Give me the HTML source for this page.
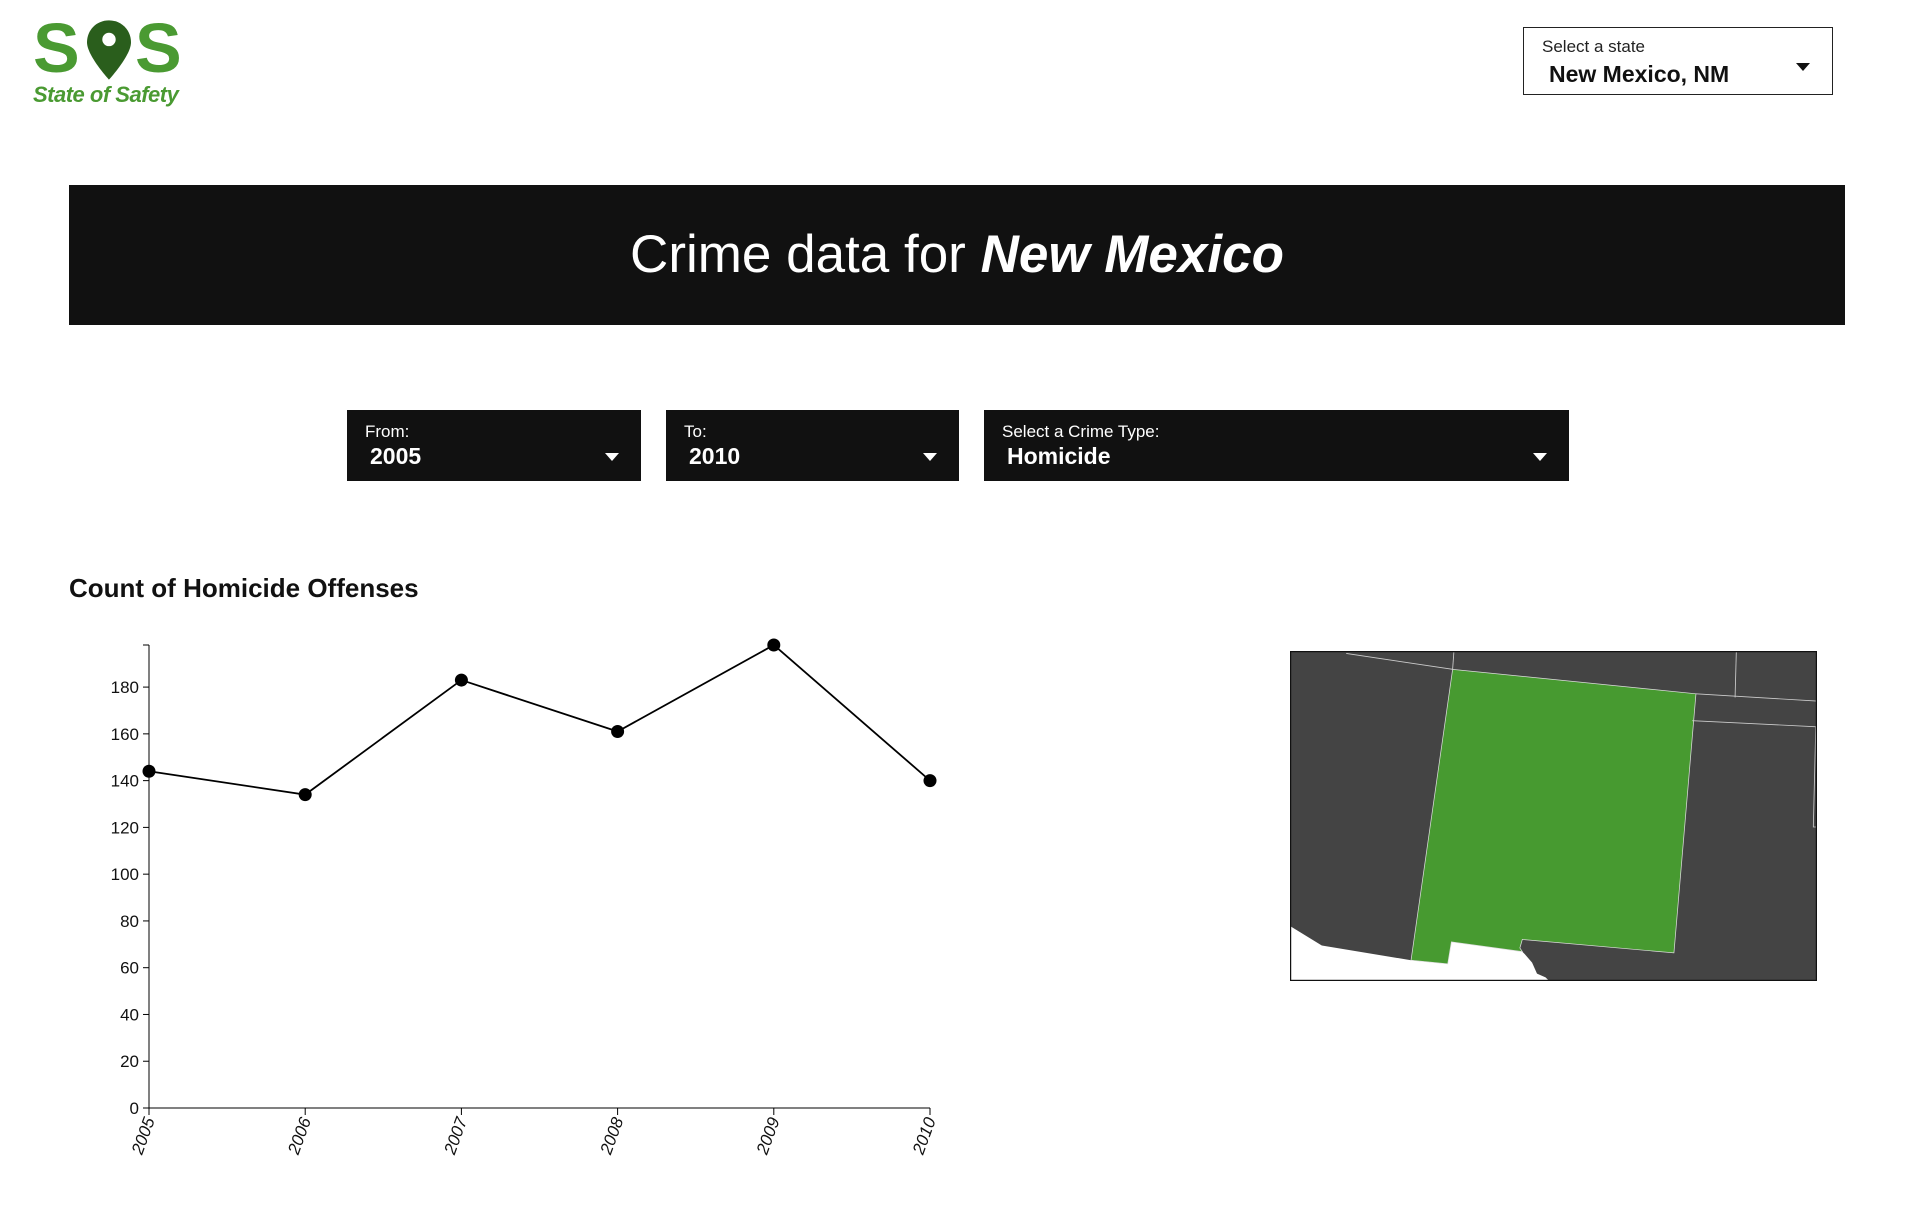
<!DOCTYPE html>
<html><head><meta charset="utf-8">
<style>
*{margin:0;padding:0;box-sizing:border-box}
body{width:1918px;height:1214px;background:#fff;font-family:"Liberation Sans",sans-serif;position:relative;overflow:hidden}
.abs{position:absolute}
.dd{position:absolute;background:#111;color:#fff;top:410px;height:71px}
.dd .l{position:absolute;left:18px;top:12px;font-size:17px}
.dd .v{position:absolute;left:23px;top:33px;font-size:23px;font-weight:bold}
.dd .a{position:absolute;right:22px;top:43px;width:0;height:0;border-left:7px solid transparent;border-right:7px solid transparent;border-top:8px solid #fff}
</style></head><body>
<div class="abs" style="left:30px;top:8px;width:160px;height:100px">
 <div class="abs" style="left:3px;top:0;font-size:70px;font-weight:bold;color:#4a9a32;line-height:80px">S</div>
 <svg class="abs" style="left:57px;top:12px" width="44" height="60" viewBox="0 0 46 62"><path d="M23 0C10 0 0 10 0 23c0 14 23 39 23 39s23-25 23-39C46 10 36 0 23 0z" fill="#2a5e1c"/><circle cx="23" cy="20" r="7" fill="#fff"/></svg>
 <div class="abs" style="left:105px;top:0;font-size:70px;font-weight:bold;color:#4a9a32;line-height:80px">S</div>
 <div class="abs" style="left:3px;top:74px;font-size:22px;font-weight:bold;font-style:italic;color:#4a9a32;white-space:nowrap;letter-spacing:-0.5px">State of Safety</div>
</div>
<div class="abs" style="left:1523px;top:27px;width:310px;height:68px;border:1px solid #222">
 <div class="abs" style="left:18px;top:9px;font-size:17px;color:#222">Select a state</div>
 <div class="abs" style="left:25px;top:33px;font-size:23px;font-weight:bold;color:#111">New Mexico, NM</div>
 <div class="abs" style="right:22px;top:35px;border-left:7px solid transparent;border-right:7px solid transparent;border-top:8px solid #111;width:0;height:0"></div>
</div>
<div class="abs" style="left:69px;top:185px;width:1776px;height:140px;background:#111;color:#fff;text-align:center;font-size:53px;line-height:140px">
 <span>Crime data for <b><i>New Mexico</i></b></span>
</div>
<div class="dd" style="left:347px;width:294px"><div class="l">From:</div><div class="v">2005</div><div class="a"></div></div>
<div class="dd" style="left:666px;width:293px"><div class="l">To:</div><div class="v">2010</div><div class="a"></div></div>
<div class="dd" style="left:984px;width:585px"><div class="l">Select a Crime Type:</div><div class="v">Homicide</div><div class="a"></div></div>
<div class="abs" style="left:69px;top:573px;font-size:26px;font-weight:bold;color:#111">Count of Homicide Offenses</div>
<svg class="abs" id="chart" style="left:0;top:600px" width="1000" height="614"></svg>
<svg class="abs" style="left:1290px;top:651px" width="527" height="330" viewBox="1054 532 431 270" preserveAspectRatio="none">
 <rect x="1054" y="532" width="431" height="270" fill="#444"/>
 <polygon points="1054,757 1080,773 1153,785 1183,788 1186,770 1242,776 1246,780 1252,787 1256,796 1263,799 1266,802 1054,802" fill="#fff"/>
 <polygon points="1187,547 1386,567 1368,779 1244,768 1242,775 1244,778 1186,770 1183,788 1153,785" fill="#479a30" stroke="#ddd" stroke-width="0.6"/>
 <g stroke="#ccc" stroke-width="0.7" fill="none">
  <polyline points="1100,534 1187,547"/>
  <polyline points="1188,533 1187,547"/>
  <polyline points="1386,567 1485,573"/>
  <polyline points="1419,533 1418,570"/>
  <polyline points="1383,589 1485,594"/>
  <polyline points="1484,594 1482,676 1485,676"/>
 </g>
 <rect x="1054.5" y="532.5" width="430" height="269" fill="none" stroke="#111" stroke-width="1"/>
</svg>
<script>
const years = ["2005","2006","2007","2008","2009","2010"];
const counts = [144, 134, 183, 161, 198, 140];
const yTicks = [0,20,40,60,80,100,120,140,160,180];
const svg = document.getElementById('chart');
const NS = 'http://www.w3.org/2000/svg';
const OY = 600;
const x0 = 149, x1 = 930, yb = 1108 - OY, yt = 645 - OY;
const yMax = Math.max(...counts);
const xs = i => x0 + (x1 - x0) * i / (years.length - 1);
const ys = v => yb - (yb - yt) * v / yMax;
function mk(tag, attrs){const e=document.createElementNS(NS,tag);for(const k in attrs)e.setAttribute(k,attrs[k]);svg.appendChild(e);return e;}
let e;
e = mk('line',{x1:x0,y1:yt,x2:x0,y2:yb,stroke:'#000','stroke-width':1});


e = mk('line',{x1:x0-6,y1:yt,x2:x0,y2:yt,stroke:'#000'});


e = mk('line',{x1:x0,y1:yb,x2:x1,y2:yb,stroke:'#000','stroke-width':1});


yTicks.forEach(t=>{
 const y=ys(t);
 e = mk('line',{x1:x0-6,y1:y,x2:x0,y2:y,stroke:'#000'});
 
 
 e = mk('text',{x:x0-10,y:y+6,'text-anchor':'end','font-size':17,fill:'#111','font-family':'Liberation Sans, sans-serif'});
 e.textContent=t;
 
 
});
years.forEach((yr,i)=>{
 const x=xs(i);
 e = mk('line',{x1:x,y1:yb,x2:x,y2:yb+7,stroke:'#000'});
 
 
 e = mk('text',{x:0,y:0,'text-anchor':'end','font-size':17,fill:'#111','font-style':'italic','font-family':'Liberation Sans, sans-serif',transform:`translate(${x+6},${yb+12}) rotate(-70)`});
 e.textContent=yr;
 
 
});
e = mk('polyline',{points:counts.map((v,i)=>xs(i)+','+ys(v)).join(' '),fill:'none',stroke:'#000','stroke-width':1.8});


counts.forEach((v,i)=>{
 e = mk('circle',{cx:xs(i),cy:ys(v),r:6.5,fill:'#000'});
 
 
});
</script>
</body></html>
